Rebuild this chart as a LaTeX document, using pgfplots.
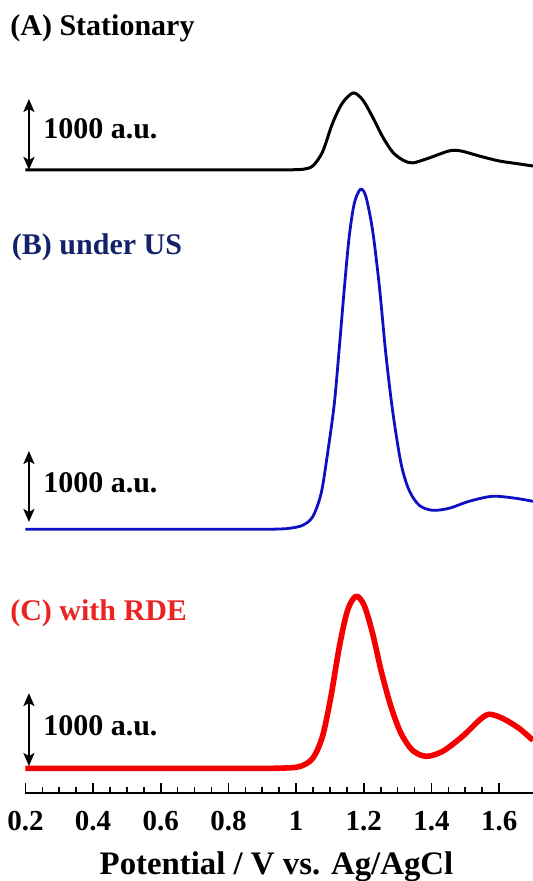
\documentclass[border=0pt]{standalone}
\usepackage{fontspec}
\setmainfont{Liberation Serif}
\usepackage{pgfplots}
\usepackage{pgfplotstable}
\pgfplotsset{compat=1.18}
\usetikzlibrary{arrows.meta}

\definecolor{cblue}{RGB}{15,15,195}
\definecolor{bnavy}{RGB}{20,35,105}
\definecolor{cred}{RGB}{245,0,0}
\definecolor{lred}{RGB}{235,35,35}

% (A) Stationary: potential / V, intensity / a.u.
\pgfplotstableread{
V I
0.200 0
0.300 0
0.400 0
0.500 0
0.600 0
0.700 0
0.800 0
0.880 0
0.940 0
0.990 3
1.020 10
1.049 56
1.078 254
1.108 662
1.137 944
1.169 1085
1.197 986
1.226 746
1.256 465
1.285 254
1.315 141
1.344 99
1.393 169
1.452 268
1.487 268
1.541 197
1.600 127
1.659 85
1.700 56
}\dataA

% (B) under US
\pgfplotstableread{
V I
0.200 0
0.300 0
0.400 0
0.500 0
0.600 0
0.700 0
0.800 0
0.880 0
0.940 3
0.980 14
1.019 56
1.049 177
1.074 507
1.093 1070
1.113 1775
1.128 2578
1.143 3423
1.157 4127
1.172 4592
1.190 4789
1.206 4690
1.226 4211
1.246 3423
1.265 2479
1.285 1676
1.310 930
1.334 549
1.364 338
1.403 268
1.452 296
1.511 394
1.580 465
1.649 437
1.700 394
}\dataB

% (C) with RDE
\pgfplotstableread{
V I
0.200 0
0.300 0
0.400 0
0.500 0
0.600 0
0.700 0
0.800 0
0.880 0
0.951 2
1.010 24
1.049 141
1.078 451
1.103 1014
1.128 1718
1.152 2225
1.177 2423
1.201 2296
1.226 1901
1.251 1380
1.280 873
1.310 493
1.344 254
1.384 169
1.433 239
1.492 451
1.541 676
1.570 761
1.610 704
1.659 563
1.700 394
}\dataC

\begin{document}
\begin{tikzpicture}
\begin{axis}[
  scale only axis,
  width=253.75pt, height=396.5pt,
  xmin=0.2, xmax=1.7, ymin=0, ymax=11169,
  hide y axis,
  axis x line=bottom,
  x axis line style={-, line width=1pt, black},
  xtick={0.2,0.4,0.6,0.8,1,1.2,1.4,1.6},
  minor x tick num=3,
  xtick align=inside,
  major tick length=5pt, minor tick length=3pt,
  major tick style={line width=0.8pt, black},
  minor tick style={line width=0.8pt, black},
  /pgf/number format/assume math mode=true,
  xticklabel style={anchor=base, yshift=-18.75pt, inner sep=0pt, font=\fontsize{14.5}{17}\selectfont\bfseries},
  clip=false,
]
\addplot[black, line width=1.5pt, smooth, line join=round] table[x=V, y expr=\thisrow{I}+8775] {\dataA};
\addplot[cblue, line width=1.4pt, smooth, line join=round] table[x=V, y expr=\thisrow{I}+3714] {\dataB};
\addplot[cred, line width=2.8pt, smooth, line join=round] table[x=V, y expr=\thisrow{I}+348] {\dataC};

\node[anchor=base west, inner sep=0pt, font=\fontsize{15}{18}\selectfont\bfseries] at (axis cs:0.1543,10662) {(A) Stationary};
\node[anchor=base west, inner sep=0pt, text=bnavy, font=\fontsize{15}{18}\selectfont\bfseries] at (axis cs:0.159,7578) {(B) under US};
\node[anchor=base west, inner sep=0pt, text=lred, font=\fontsize{15}{18}\selectfont\bfseries] at (axis cs:0.154,2423) {(C) with RDE};

\draw[{Stealth[length=6.5pt,width=5.5pt,inset=1.5pt]}-{Stealth[length=6.5pt,width=5.5pt,inset=1.5pt]}, line width=1.1pt] (axis cs:0.2103,8775) -- (axis cs:0.2103,9775);
\draw[{Stealth[length=6.5pt,width=5.5pt,inset=1.5pt]}-{Stealth[length=6.5pt,width=5.5pt,inset=1.5pt]}, line width=1.1pt] (axis cs:0.2103,3817) -- (axis cs:0.2103,4817);
\draw[{Stealth[length=6.5pt,width=5.5pt,inset=1.5pt]}-{Stealth[length=6.5pt,width=5.5pt,inset=1.5pt]}, line width=1.1pt] (axis cs:0.2103,380) -- (axis cs:0.2103,1408);

\node[anchor=base west, inner sep=0pt, font=\fontsize{15}{18}\selectfont\bfseries] at (axis cs:0.2516,9225) {1000 a.u.};
\node[anchor=base west, inner sep=0pt, font=\fontsize{15}{18}\selectfont\bfseries] at (axis cs:0.2516,4230) {1000 a.u.};
\node[anchor=base west, inner sep=0pt, font=\fontsize{15}{18}\selectfont\bfseries] at (axis cs:0.2516,817) {1000 a.u.};

\node[anchor=base, inner sep=0pt, font=\fontsize{16.4}{20}\selectfont\bfseries] at (axis cs:0.942,-1141) {Potential / V vs. Ag/AgCl};

\coordinate (bl) at (axis cs:0.1248,-1239);
\coordinate (tr) at (axis cs:1.7,11169);
\end{axis}
\pgfresetboundingbox
\path[use as bounding box] (bl) rectangle (tr);
\end{tikzpicture}
\end{document}
